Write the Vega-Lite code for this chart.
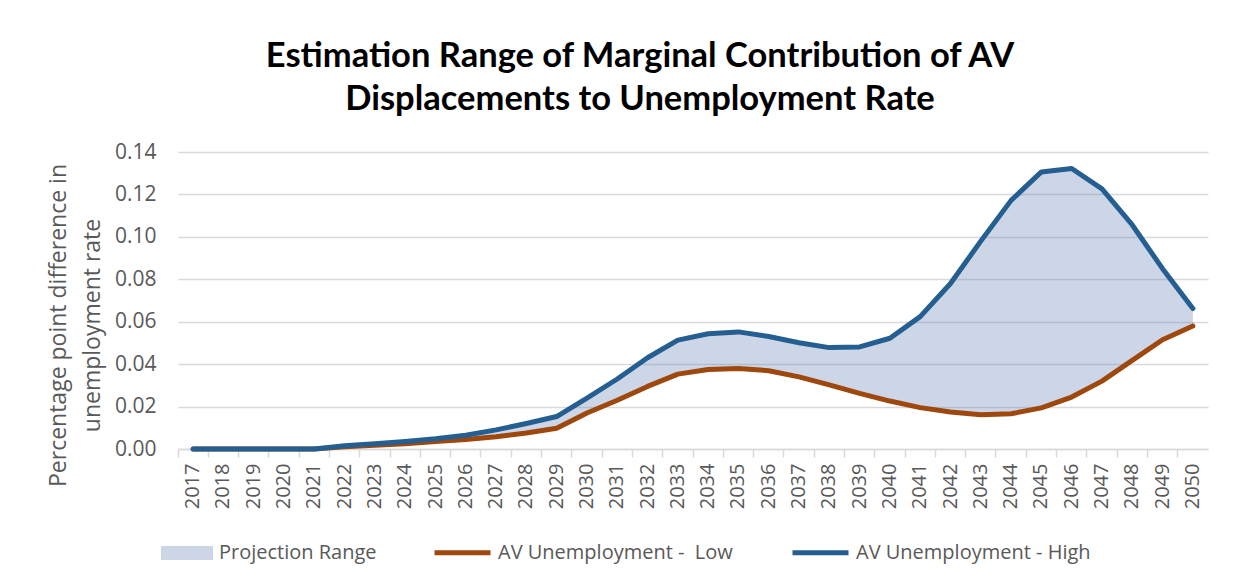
{
  "$schema": "https://vega.github.io/schema/vega-lite/v6.json",
  "autosize": "none",
  "width": 1030,
  "height": 297,
  "padding": {"left": 178, "top": 152, "right": 25, "bottom": 137},
  "background": "white",
  "config": {"view": {"stroke": null}},
  "title": {
    "text": ["Estimation Range of Marginal Contribution of AV", "Displacements to Unemployment Rate"],
    "font": "Lato",
    "fontSize": 34.5,
    "fontWeight": "bold",
    "color": "#000000",
    "lineHeight": 43,
    "anchor": "middle",
    "dx": -53,
    "offset": 24
  },
  "datasets": {
    "wide": [
      {"year": "2017", "low": 0, "high": 0},
      {"year": "2018", "low": 0, "high": 0},
      {"year": "2019", "low": 0, "high": 0},
      {"year": "2020", "low": 0, "high": 0},
      {"year": "2021", "low": 0, "high": 0},
      {"year": "2022", "low": 0.001, "high": 0.0015},
      {"year": "2023", "low": 0.0018, "high": 0.0025},
      {"year": "2024", "low": 0.0025, "high": 0.0035},
      {"year": "2025", "low": 0.0035, "high": 0.0048},
      {"year": "2026", "low": 0.0045, "high": 0.0065},
      {"year": "2027", "low": 0.0058, "high": 0.009},
      {"year": "2028", "low": 0.0075, "high": 0.012},
      {"year": "2029", "low": 0.0098, "high": 0.0153},
      {"year": "2030", "low": 0.017, "high": 0.024},
      {"year": "2031", "low": 0.023, "high": 0.033},
      {"year": "2032", "low": 0.0295, "high": 0.043},
      {"year": "2033", "low": 0.0353, "high": 0.0513},
      {"year": "2034", "low": 0.0375, "high": 0.0543},
      {"year": "2035", "low": 0.038, "high": 0.0552},
      {"year": "2036", "low": 0.0369, "high": 0.053},
      {"year": "2037", "low": 0.034, "high": 0.0501},
      {"year": "2038", "low": 0.0302, "high": 0.0478},
      {"year": "2039", "low": 0.0262, "high": 0.0481},
      {"year": "2040", "low": 0.0226, "high": 0.0522},
      {"year": "2041", "low": 0.0195, "high": 0.0624},
      {"year": "2042", "low": 0.0174, "high": 0.078},
      {"year": "2043", "low": 0.0161, "high": 0.098},
      {"year": "2044", "low": 0.0166, "high": 0.1172},
      {"year": "2045", "low": 0.0194, "high": 0.1306},
      {"year": "2046", "low": 0.0245, "high": 0.1322},
      {"year": "2047", "low": 0.032, "high": 0.1226},
      {"year": "2048", "low": 0.0418, "high": 0.1056},
      {"year": "2049", "low": 0.0515, "high": 0.085},
      {"year": "2050", "low": 0.058, "high": 0.0662}
    ]
  },
  "data": {"name": "wide"},
  "encoding": {
    "x": {
      "field": "year",
      "type": "ordinal",
      "scale": {"type": "band", "paddingInner": 0, "paddingOuter": 0},
      "axis": {
        "title": null,
        "labelAngle": -90,
        "labelFont": "Open Sans",
        "labelFontSize": 20,
        "labelColor": "#595959",
        "labelPadding": 6,
        "bandPosition": 0,
        "domainColor": "#d9d9d9",
        "domainWidth": 1.5,
        "tickColor": "#d9d9d9",
        "tickWidth": 1.5,
        "tickSize": 8,
        "grid": false
      }
    }
  },
  "layer": [
    {
      "mark": {"type": "area", "opacity": 0.32},
      "encoding": {
        "y": {
          "field": "high",
          "type": "quantitative",
          "scale": {"domain": [0, 0.14], "nice": false, "zero": true},
          "axis": {
            "values": [0, 0.02, 0.04, 0.06, 0.08, 0.1, 0.12, 0.14],
            "format": ".2f",
            "title": ["Percentage point difference in", "unemployment rate"],
            "titleFont": "Open Sans",
            "titleFontSize": 23,
            "titleFontWeight": "normal",
            "titleColor": "#595959",
            "titleLineHeight": 34,
            "titlePadding": 10,
            "titleY": 173,
            "labelFont": "Open Sans",
            "labelFontSize": 21,
            "labelColor": "#595959",
            "labelPadding": 22,
            "domain": false,
            "ticks": false,
            "grid": true,
            "gridColor": "#d9d9d9",
            "gridWidth": 1.5
          }
        },
        "y2": {"field": "low"},
        "fill": {
          "datum": "Projection Range",
          "scale": {"domain": ["Projection Range"], "range": ["#6080b0"]},
          "legend": {
            "orient": "none",
            "legendX": -18,
            "legendY": 374,
            "title": null,
            "symbolType": "M-1,-0.27H1V0.27H-1Z",
            "symbolSize": 2704,
            "symbolOpacity": 0.32,
            "labelFont": "Open Sans",
            "labelFontSize": 20,
            "labelColor": "#595959",
            "labelOffset": 5,
            "labelLimit": 400
          }
        }
      }
    },
    {
      "mark": {"type": "line", "strokeWidth": 5, "strokeCap": "round", "strokeJoin": "round"},
      "encoding": {
        "y": {"field": "low", "type": "quantitative"},
        "stroke": {
          "datum": "AV Unemployment - \u00a0Low",
          "scale": {"domain": ["AV Unemployment - \u00a0Low", "AV Unemployment - High"], "range": ["#9e480e", "#255e91"]},
          "legend": {
            "orient": "none",
            "legendX": 254,
            "legendY": 370,
            "title": null,
            "direction": "horizontal",
            "symbolType": "stroke",
            "symbolSize": 3136,
            "symbolStrokeWidth": 5,
            "columnPadding": 49,
            "labelFont": "Open Sans",
            "labelFontSize": 20,
            "labelColor": "#595959",
            "labelOffset": 5,
            "labelLimit": 400
          }
        }
      }
    },
    {
      "mark": {"type": "line", "strokeWidth": 5, "strokeCap": "round", "strokeJoin": "round"},
      "encoding": {
        "y": {"field": "high", "type": "quantitative"},
        "stroke": {"datum": "AV Unemployment - High"}
      }
    }
  ]
}
